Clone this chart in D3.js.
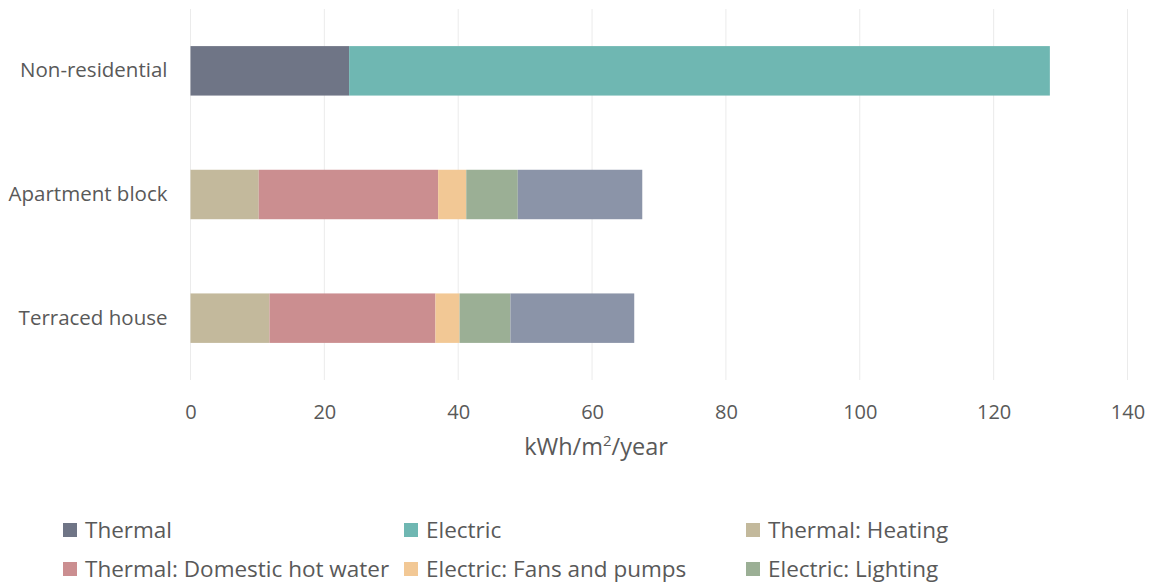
<!DOCTYPE html>
<html>
<head>
<meta charset="utf-8">
<script src="https://cdn.jsdelivr.net/npm/d3@7"></script>
<style>
  html, body { margin: 0; padding: 0; background: #fff; }
  svg text { font-family: "Open Sans", sans-serif; fill: #595959; }
</style>
</head>
<body>
<svg id="chart" width="1149" height="583"></svg>
<script>
const categories = ["Non-residential", "Apartment block", "Terraced house"];
const seriesNames = ["Thermal", "Electric", "Thermal: Heating", "Thermal: Domestic hot water",
                     "Electric: Fans and pumps", "Electric: Lighting", "Electric: Other"];
const thermal      = [23.7, 0, 0];
const electric     = [104.7, 0, 0];
const heating      = [0, 10.2, 11.8];
const hotWater     = [0, 26.8, 24.8];
const fansPumps    = [0, 4.2, 3.6];
const lighting     = [0, 7.7, 7.6];
const otherElec    = [0, 18.6, 18.5];
const xTicks = [0, 20, 40, 60, 80, 100, 120, 140];
const legendNames = ["Thermal", "Electric", "Thermal: Heating", "Thermal: Domestic hot water",
                     "Electric: Fans and pumps", "Electric: Lighting"];
const colors = ["#6f7586", "#6fb7b2", "#c3b99c", "#cb8e90", "#f2c895", "#9baf95", "#8b94a8"];

const seriesValues = [thermal, electric, heating, hotWater, fansPumps, lighting, otherElec];
const rows = categories.map((c, i) => {
  const r = { cat: c };
  seriesNames.forEach((s, j) => r[s] = seriesValues[j][i]);
  return r;
});

const svg = d3.select("#chart");
const x = d3.scaleLinear().domain([0, 140]).range([190.5, 1127.5]);
const y = d3.scaleBand().domain(categories).range([9, 380]).paddingInner(0.6).paddingOuter(0.3);
const color = d3.scaleOrdinal().domain(seriesNames).range(colors);

// gridlines
svg.append("g").selectAll("line").data(xTicks).join("line")
  .attr("x1", d => x(d)).attr("x2", d => x(d))
  .attr("y1", 9).attr("y2", 380)
  .attr("stroke", "#ebebeb").attr("stroke-width", 1);

// stacked bars
const stack = d3.stack().keys(seriesNames)(rows);
svg.append("g").selectAll("g").data(stack).join("g")
  .attr("fill", d => color(d.key))
  .selectAll("rect").data(d => d).join("rect")
  .attr("x", d => x(d[0]))
  .attr("width", d => Math.max(0, x(d[1]) - x(d[0])))
  .attr("y", d => y(d.data.cat))
  .attr("height", y.bandwidth());

// x axis
const xAxis = svg.append("g").attr("transform", "translate(0,380)")
  .call(d3.axisBottom(x).tickValues(xTicks).tickSize(0).tickPadding(25));
xAxis.select(".domain").remove();
xAxis.selectAll("text").style("font-size", "20px").attr("fill", "#595959");

// y axis
const yAxis = svg.append("g").attr("transform", "translate(190.5,0)")
  .call(d3.axisLeft(y).tickSize(0).tickPadding(23));
yAxis.select(".domain").remove();
yAxis.selectAll("text").style("font-size", "20.5px").attr("fill", "#595959");

// axis title
const title = svg.append("text").attr("x", 596).attr("y", 455)
  .attr("text-anchor", "middle").style("font-size", "23.5px");
title.append("tspan").text("kWh/m");
title.append("tspan").text("2").attr("dy", -9).style("font-size", "15px");
title.append("tspan").text("/year").attr("dy", 9);

// legend
const legX = [63, 404, 746];
const legY = [530, 569];
const leg = svg.append("g").selectAll("g").data(legendNames).join("g")
  .attr("transform", (d, i) => `translate(${legX[i % 3]},${legY[Math.floor(i / 3)]})`);
leg.append("rect").attr("x", 0).attr("y", -7).attr("width", 14).attr("height", 14)
  .attr("fill", d => color(d));
leg.append("text").attr("x", 22).attr("y", 0).attr("dy", "0.35em")
  .style("font-size", "22.5px").text(d => d);
</script>
</body>
</html>
